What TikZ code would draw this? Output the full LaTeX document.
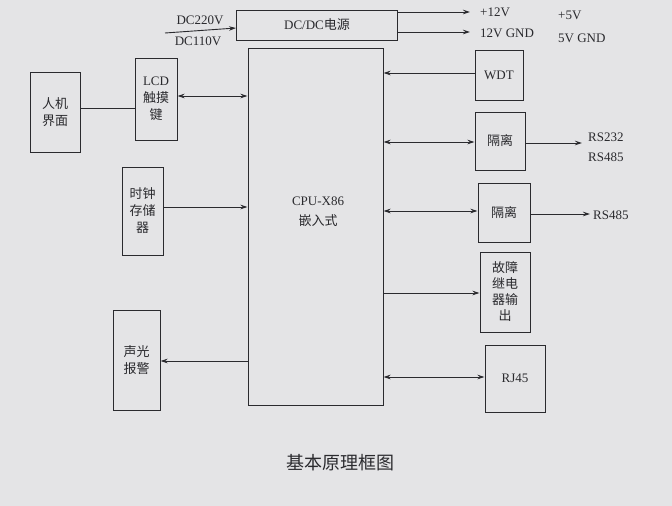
\documentclass[tikz,border=0pt]{standalone}
\usepackage{fontspec}
\setmainfont{Liberation Serif}
\newfontfamily\cjk{Noto Sans CJK SC}
\usetikzlibrary{arrows.meta}
\definecolor{paper}{HTML}{E4E4E6}
\definecolor{ink}{HTML}{2A2A2E}
\begin{document}
\begin{tikzpicture}[x=1pt,y=-1pt,
  blk/.style={draw=ink,line width=1pt},
  con/.style={draw=ink,line width=0.9pt,-{Stealth[length=7pt,width=4.5pt]}},
  bicon/.style={draw=ink,line width=0.9pt,{Stealth[length=7pt,width=4.5pt]}-{Stealth[length=7pt,width=4.5pt]}},
  lbl/.style={text=ink,font=\fontsize{13}{15}\selectfont,inner sep=0pt},
  cl/.style={text=ink,font=\cjk\fontsize{13}{17}\selectfont,align=center,inner sep=0pt}]
\fill[paper] (0,0) rectangle (672,506);
\useasboundingbox (0,0) rectangle (672,506);
% boxes
\node[blk,minimum width=161pt,minimum height=30pt,lbl] (dc) at (317,25) {DC/DC{\cjk 电源}};
\node[blk,minimum width=135pt,minimum height=357pt] (cpu) at (315.5,226.5) {};
\node[lbl,align=center] (cput) at (318,212) {CPU-X86\\[5pt]{\cjk 嵌入式}};
\node[blk,minimum width=50pt,minimum height=80pt,cl] (hmi) at (55,112) {人机\\界面};
\node[blk,minimum width=42pt,minimum height=82pt,cl] (lcd) at (156,99) {{\rmfamily LCD}\\触摸\\键};
\node[blk,minimum width=41pt,minimum height=88pt,cl] (clk) at (142.5,211) {时钟\\存储\\器};
\node[blk,minimum width=47pt,minimum height=100pt,cl] (alm) at (136.5,360) {声光\\报警};
\node[blk,minimum width=48pt,minimum height=50pt,lbl] (wdt) at (499,75) {WDT};
\node[blk,minimum width=50pt,minimum height=58pt,cl] (iso1) at (500,141) {隔离};
\node[blk,minimum width=52pt,minimum height=59pt,cl] (iso2) at (504,212.5) {隔离};
\node[blk,minimum width=50pt,minimum height=80pt,cl,font=\cjk\fontsize{13}{16}\selectfont] (rly) at (505,292) {故障\\继电\\器输\\出};
\node[blk,minimum width=60pt,minimum height=67pt,lbl] (rj) at (515,378.5) {RJ45};
% power
\coordinate (pin) at (165,33);
\draw[con] (pin) -- (dc.west |- 0,28);
\node[lbl] (l220) at (200,20) {DC220V};
\node[lbl] (l110) at (198,41) {DC110V};
\coordinate (o1) at (470,12);
\coordinate (o2) at (470,32);
\draw[con] (dc.east |- o1) -- (o1);
\draw[con] (dc.east |- o2) -- (o2);
\node[lbl,anchor=west] (v12) at (480,12) {+12V};
\node[lbl,anchor=west] (v5) at (558,15) {+5V};
\node[lbl,anchor=west] (g12) at (480,33) {12V GND};
\node[lbl,anchor=west] (g5) at (558,38) {5V GND};
% left connections
\draw[draw=ink,line width=0.9pt] (hmi.east |- 0,108) -- (lcd.west |- 0,108);
\draw[bicon] (lcd.east |- 0,96) -- (cpu.west |- 0,96);
\draw[con] (clk.east |- 0,207) -- (cpu.west |- 0,207);
\draw[con] (cpu.west |- 0,361) -- (alm.east |- 0,361);
% right connections
\draw[con] (wdt.west |- 0,73) -- (cpu.east |- 0,73);
\draw[bicon] (cpu.east |- 0,142) -- (iso1.west |- 0,142);
\draw[bicon] (cpu.east |- 0,211) -- (iso2.west |- 0,211);
\draw[con] (cpu.east |- 0,293) -- (rly.west |- 0,293);
\draw[bicon] (cpu.east |- 0,377) -- (rj.west |- 0,377);
\coordinate (r1) at (582,143);
\coordinate (r2) at (590,214);
\draw[con] (iso1.east |- r1) -- (r1);
\draw[con] (iso2.east |- r2) -- (r2);
\node[lbl,anchor=west] (rs232) at (588,137) {RS232};
\node[lbl,anchor=west] (rs485a) at (588,157) {RS485};
\node[lbl,anchor=west] (rs485b) at (593,215) {RS485};
\node[cl,font=\cjk\fontsize{18}{20}\selectfont] (title) at (340,463) {基本原理框图};
\end{tikzpicture}
\end{document}
